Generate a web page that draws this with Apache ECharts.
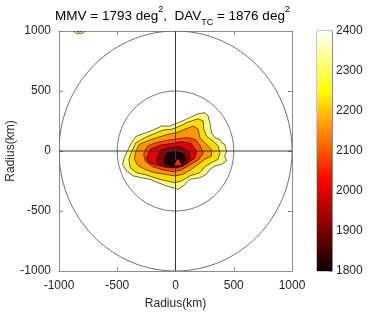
<!DOCTYPE html>
<html>
<head>
<meta charset="utf-8">
<script src="https://cdn.jsdelivr.net/npm/echarts@6/dist/echarts.min.js"></script>
<style>
html,body{margin:0;padding:0;background:#fff;}
#main{width:368px;height:317px;}
</style>
</head>
<body>
<div id="main"></div>
<script>
// axis ticks and colorbar range
var axisTicks = [-1000, -500, 0, 500, 1000];
var cbarMin = 1800, cbarMax = 2400, cbarStep = 100;
var ringRadii = [500, 1000];
var tcCenter = [20, -90];

// contour polygons (km), outermost first
var lvPale = [[-378,69],[-335,125],[-249,153],[-177,181],[-120,208],[-49,208],[23,236],[94,264],[180,306],[252,320],[280,292],[295,236],[309,153],[338,111],[380,97],[395,69],[423,56],[438,0],[423,-42],[438,-83],[395,-111],[338,-125],[295,-153],[266,-194],[209,-222],[123,-236],[66,-292],[23,-320],[-20,-306],[-77,-292],[-149,-264],[-220,-236],[-292,-222],[-363,-208],[-420,-167],[-455,-111],[-440,-56],[-405,14]];
var lvYellow = [[-375,0],[-340,69],[-263,111],[-177,147],[-106,175],[-34,181],[37,208],[109,242],[195,269],[237,250],[243,181],[266,125],[323,83],[366,42],[381,-14],[366,-69],[309,-97],[252,-131],[209,-181],[123,-208],[51,-250],[-6,-264],[-77,-250],[-163,-228],[-249,-200],[-335,-181],[-390,-139],[-400,-69]];
var lvOrange = [[-345,-14],[-310,56],[-220,92],[-134,119],[-63,139],[9,153],[80,181],[152,208],[195,181],[209,111],[266,56],[309,14],[309,-42],[252,-69],[195,-111],[137,-153],[66,-194],[-6,-208],[-92,-194],[-177,-181],[-263,-153],[-325,-119],[-352,-69]];
var lvRedOrange = [[-275,-28],[-240,42],[-163,70],[-77,88],[9,100],[94,113],[170,97],[212,42],[240,-14],[198,-72],[125,-115],[51,-158],[-20,-172],[-110,-158],[-198,-130],[-258,-85]];
var lvRed = [[-250,-60],[-215,15],[-135,48],[-40,62],[55,78],[135,62],[180,0],[165,-60],[100,-105],[25,-140],[-65,-140],[-160,-120],[-230,-98]];
var lvDark = [[-165,-72],[-130,5],[-55,30],[40,35],[110,0],[128,-60],[88,-110],[10,-140],[-85,-128],[-148,-108]];
var lvBlack = [[-100,-70],[-70,-10],[10,5],[72,-25],[88,-78],[42,-120],[-35,-128],[-90,-108]];
var blobPale = [[-875,1000],[-855,984],[-825,976],[-795,984],[-775,1000]];
var blobYellow = [[-850,1000],[-825,990],[-800,1000]];

var contours = [
  {pts: lvPale, color: '#ffff85'},
  {pts: lvYellow, color: '#ffdc00'},
  {pts: lvOrange, color: '#ff9600'},
  {pts: lvRedOrange, color: '#ff4a00'},
  {pts: lvRed, color: '#e00000'},
  {pts: lvDark, color: '#880000'},
  {pts: lvBlack, color: '#160000'},
  {pts: blobPale, color: '#ffff85'},
  {pts: blobYellow, color: '#ffdc00'}
];

var hotStops = [
  {offset: 0, color: '#ffffff'},
  {offset: 0.25, color: '#ffff00'},
  {offset: 0.625, color: '#ff0000'},
  {offset: 1, color: '#0a0000'}
];

var textColor = '#262626';
var boxColor = '#8c8c8c';
var fontFam = '"Liberation Sans", Arial, sans-serif';

var mychart = echarts.init(document.getElementById('main'));

function plainNum(v) { return String(v); }

function lineStyleAxis(show) {
  return {
    show: show,
    onZero: false,
    lineStyle: {color: boxColor, width: 1}
  };
}

function tri(c, s) {
  return [[c[0], c[1] - s], [c[0] + s, c[1] + s * 0.8], [c[0] - s, c[1] + s * 0.8]];
}

var option = {
  animation: false,
  backgroundColor: '#fff',
  title: {
    left: 55,
    top: 5,
    padding: 0,
    text: '{a|MMV = 1793 deg}{sup|2}{a|,  DAV}{sub|TC}{a| = 1876 deg}{sup|2}',
    textStyle: {
      fontWeight: 'normal',
      rich: {
        a: {fontSize: 13.5, color: '#000', fontFamily: fontFam, fontWeight: 'normal', lineHeight: 22, verticalAlign: 'middle'},
        sup: {fontSize: 9, color: '#000', fontFamily: fontFam, fontWeight: 'normal', lineHeight: 12, verticalAlign: 'top'},
        sub: {fontSize: 9, color: '#000', fontFamily: fontFam, fontWeight: 'normal', lineHeight: 12, verticalAlign: 'bottom'}
      }
    }
  },
  grid: [
    {left: 59, top: 31, width: 233, height: 240, show: false, outerBoundsMode: 'none', containLabel: false},
    {left: 317, top: 31, width: 15, height: 240, show: true, borderColor: boxColor, borderWidth: 1, outerBoundsMode: 'none', containLabel: false}
  ],
  xAxis: [
    {
      gridIndex: 0, type: 'value', min: -1000, max: 1000, interval: 500,
      name: 'Radius(km)', nameLocation: 'middle', nameGap: 27, nameMoveOverlap: false,
      nameTextStyle: {color: textColor, fontSize: 12, fontFamily: fontFam},
      axisLine: lineStyleAxis(true),
      axisTick: {show: true, inside: true, length: 4, lineStyle: {color: boxColor}},
      axisLabel: {color: textColor, fontSize: 12, fontFamily: fontFam, margin: 9, formatter: plainNum},
      splitLine: {show: false}
    },
    {
      gridIndex: 0, type: 'value', min: -1000, max: 1000, interval: 500, position: 'top',
      axisLine: lineStyleAxis(true),
      axisTick: {show: true, inside: true, length: 4, lineStyle: {color: boxColor}},
      axisLabel: {show: false}, splitLine: {show: false}
    },
    {
      gridIndex: 1, type: 'category', data: ['cb'], show: false
    }
  ],
  yAxis: [
    {
      gridIndex: 0, type: 'value', min: -1000, max: 1000, interval: 500,
      name: 'Radius(km)', nameLocation: 'middle', nameGap: 42, nameMoveOverlap: false,
      nameTextStyle: {color: textColor, fontSize: 12, fontFamily: fontFam},
      axisLine: lineStyleAxis(true),
      axisTick: {show: true, inside: true, length: 4, lineStyle: {color: boxColor}},
      axisLabel: {color: textColor, fontSize: 12, fontFamily: fontFam, margin: 8, formatter: plainNum},
      splitLine: {show: false}
    },
    {
      gridIndex: 0, type: 'value', min: -1000, max: 1000, interval: 500, position: 'right',
      axisLine: lineStyleAxis(true),
      axisTick: {show: true, inside: true, length: 4, lineStyle: {color: boxColor}},
      axisLabel: {show: false}, splitLine: {show: false}
    },
    {
      gridIndex: 1, type: 'value', min: cbarMin, max: cbarMax, interval: cbarStep, position: 'right',
      axisLine: lineStyleAxis(true),
      axisTick: {show: true, inside: true, length: 3, lineStyle: {color: boxColor}},
      axisLabel: {color: textColor, fontSize: 12, fontFamily: fontFam, margin: 4, formatter: plainNum},
      splitLine: {show: false}
    }
  ],
  series: [
    {
      name: 'contours',
      type: 'custom',
      xAxisIndex: 0, yAxisIndex: 0,
      clip: true,
      silent: true,
      data: contours.map(function (c, i) { return [c.pts[0][0], c.pts[0][1], i]; }),
      encode: {x: 0, y: 1},
      renderItem: function (params, api) {
        var c = contours[params.dataIndex];
        var pts = c.pts.map(function (p) { return api.coord(p); });
        return {
          type: 'polygon',
          shape: {points: pts},
          style: {fill: c.color, stroke: '#000', lineWidth: 0.6}
        };
      }
    },
    {
      name: 'rings',
      type: 'custom',
      xAxisIndex: 0, yAxisIndex: 0,
      clip: true,
      silent: true,
      data: ringRadii.map(function (r) { return [0, 0, r]; }),
      encode: {x: 0, y: 1},
      renderItem: function (params, api) {
        var r = api.value(2);
        var pts = [];
        for (var k = 0; k <= 180; k++) {
          var a = k / 180 * Math.PI * 2;
          pts.push(api.coord([r * Math.cos(a), r * Math.sin(a)]));
        }
        return {
          type: 'polyline',
          shape: {points: pts},
          style: {stroke: '#6e6e6e', lineWidth: 1, fill: null}
        };
      }
    },
    {
      name: 'cross',
      type: 'custom',
      xAxisIndex: 0, yAxisIndex: 0,
      silent: true,
      data: [[0, 0]],
      encode: {x: 0, y: 1},
      renderItem: function (params, api) {
        var l = api.coord([-1000, 0]), r = api.coord([1000, 0]);
        var t = api.coord([0, 1000]), b = api.coord([0, -1000]);
        return {
          type: 'group',
          children: [
            {type: 'line', shape: {x1: l[0], y1: l[1], x2: r[0], y2: r[1]}, style: {stroke: '#3a3a3a', lineWidth: 1}},
            {type: 'line', shape: {x1: t[0], y1: t[1], x2: b[0], y2: b[1]}, style: {stroke: '#3a3a3a', lineWidth: 1}}
          ]
        };
      }
    },
    {
      // TC centre marker: black outline with red fill
      name: 'tc',
      type: 'custom',
      xAxisIndex: 0, yAxisIndex: 0,
      silent: true,
      z: 10,
      data: [tcCenter],
      encode: {x: 0, y: 1},
      renderItem: function (params, api) {
        var c = api.coord([api.value(0), api.value(1)]);
        return {
          type: 'group',
          children: [
            {type: 'polygon', shape: {points: tri(c, 6)}, style: {fill: '#000000'}},
            {type: 'polygon', shape: {points: tri([c[0], c[1] + 0.6], 3.8)}, style: {fill: '#ff2a00'}}
          ]
        };
      }
    },
    {
      name: 'colorbar',
      type: 'bar',
      xAxisIndex: 2, yAxisIndex: 2,
      barWidth: '100%',
      silent: true,
      data: [cbarMax],
      itemStyle: {
        color: new echarts.graphic.LinearGradient(0, 0, 0, 1, hotStops)
      }
    }
  ]
};
mychart.setOption(option);
</script>
</body>
</html>
